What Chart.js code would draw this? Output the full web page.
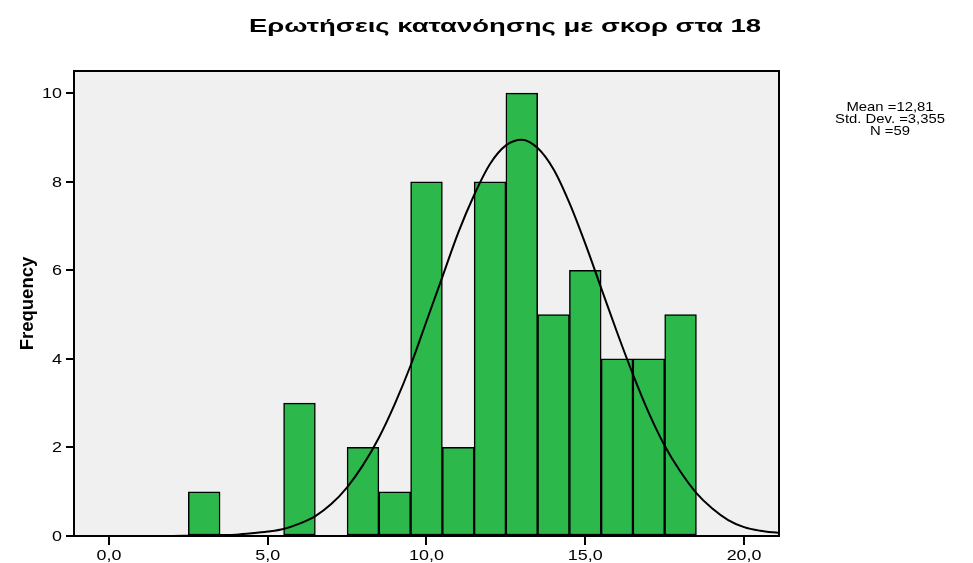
<!DOCTYPE html>
<html>
<head>
<meta charset="utf-8">
<script src="https://cdn.jsdelivr.net/npm/chart.js@4.4.0/dist/chart.umd.min.js"></script>
<style>
  html, body { margin: 0; padding: 0; background: #fff; }
  #wrap { width: 973px; height: 563px; position: relative; }
</style>
</head>
<body>
<div id="wrap"><canvas id="histChart"></canvas></div>
<script>
// Histogram data (score -> frequency)
var scoreBins = [3, 6, 8, 9, 10, 11, 12, 13, 14, 15, 16, 17, 18];
var frequencies = [1, 3, 2, 1, 8, 2, 8, 10, 5, 6, 4, 4, 5];
var curveX = [-1.1, -0.5, 0, 0.5, 1, 1.5, 2, 2.5, 3, 3.5, 4, 4.5, 5, 5.5, 6, 6.5, 7, 7.5, 8, 8.5, 9, 9.5, 10, 10.5, 11, 11.5, 12, 12.5, 13, 13.5, 14, 14.5, 15, 15.5, 16, 16.5, 17, 17.5, 18, 18.5, 19, 19.5, 20, 20.5, 21.1];
var curveY = [0, 0, 0, 0, 0, 0, 0, 0.005, 0.01, 0.02, 0.03, 0.06, 0.1, 0.16, 0.28, 0.45, 0.72, 1.1, 1.6, 2.22, 2.98, 3.85, 4.85, 5.85, 6.85, 7.7, 8.4, 8.82, 8.95, 8.76, 8.28, 7.52, 6.6, 5.6, 4.6, 3.65, 2.78, 2.04, 1.45, 0.97, 0.62, 0.36, 0.2, 0.12, 0.07];
var xTicks = [0, 5, 10, 15, 20];
var yTicks = [0, 2, 4, 6, 8, 10];
var chartTitle = 'Ερωτήσεις κατανόησης με σκορ στα 18';
var yTitle = 'Frequency';
var statLines = ['Mean =12,81', 'Std. Dev. =3,355', 'N =59'];

var FONT = '"Liberation Sans", Arial, sans-serif';

// draw text stretched horizontally (SPSS export looks widened)
function wideText(ctx, text, x, y, align, sx) {
    ctx.save();
    ctx.translate(x, y);
    ctx.scale(sx, 1);
    ctx.textAlign = align;
    ctx.fillText(text, 0, 0);
    ctx.restore();
}

var spssDecor = {
    id: 'spssDecor',
    beforeDraw: function (chart) {
        var a = chart.chartArea, ctx = chart.ctx;
        ctx.save();
        ctx.fillStyle = '#f0f0f0';
        ctx.fillRect(a.left, a.top, a.right - a.left, a.bottom - a.top);
        ctx.restore();
    },
    afterDraw: function (chart) {
        var a = chart.chartArea, ctx = chart.ctx;
        ctx.save();
        // frame
        ctx.strokeStyle = '#000';
        ctx.lineWidth = 2;
        ctx.strokeRect(a.left, a.top, a.right - a.left, a.bottom - a.top);
        ctx.fillStyle = '#000';
        ctx.textBaseline = 'alphabetic';

        // title
        ctx.font = 'bold 18px ' + FONT;
        var tw = ctx.measureText(chartTitle).width;
        wideText(ctx, chartTitle, 505, 31.5, 'center', 512 / tw);

        // tick labels, placed by the chart scales
        ctx.font = '14px ' + FONT;
        var xs = chart.scales.x, ys = chart.scales.y;
        xs.ticks.forEach(function (t) {
            wideText(ctx, t.value.toFixed(1).replace('.', ','), xs.getPixelForValue(t.value), 560, 'center', 1.28);
        });
        ys.ticks.forEach(function (t) {
            wideText(ctx, String(t.value), 62, ys.getPixelForValue(t.value) + 5, 'right', 1.28);
        });

        // y axis title
        ctx.save();
        ctx.font = 'bold 18.5px ' + FONT;
        ctx.translate(33, (a.top + a.bottom) / 2);
        ctx.rotate(-Math.PI / 2);
        ctx.textAlign = 'center';
        ctx.fillText(yTitle, 0, 0);
        ctx.restore();

        // stats box
        ctx.font = '13.5px ' + FONT;
        statLines.forEach(function (s, i) {
            wideText(ctx, s, 890, 110.5 + i * 12.4, 'center', 1.1);
        });
        ctx.restore();
    }
};

var ctx = document.getElementById('histChart');
new Chart(ctx, {
    data: {
        datasets: [{
            type: 'line',
            label: 'Normal',
            data: curveX.map(function (x, i) { return { x: x, y: curveY[i] }; }),
            borderColor: '#000',
            borderWidth: 2,
            pointRadius: 0,
            cubicInterpolationMode: 'monotone',
            fill: false,
            order: 0
        }, {
            type: 'bar',
            label: 'Frequency',
            data: scoreBins.map(function (x, i) { return { x: x, y: frequencies[i] }; }),
            backgroundColor: '#2db84b',
            borderColor: '#000',
            borderWidth: 1.5,
            borderSkipped: false,
            barPercentage: 1,
            categoryPercentage: 1,
            order: 1
        }]
    },
    options: {
        responsive: true,
        maintainAspectRatio: false,
        animation: false,
        layout: { padding: { left: 0, top: 71, right: 194, bottom: 0 } },
        plugins: {
            legend: { display: false },
            tooltip: { enabled: false },
            title: { display: false }
        },
        scales: {
            x: {
                type: 'linear',
                offset: false,
                min: -1.1,
                max: 21.1,
                afterBuildTicks: function (s) { s.ticks = xTicks.map(function (v) { return { value: v }; }); },
                afterFit: function (s) { s.height = 27; },
                ticks: { display: false },
                border: { display: false },
                grid: { offset: false, drawOnChartArea: false, drawTicks: true, tickLength: 9, color: '#000', lineWidth: 2 }
            },
            y: {
                min: 0,
                max: 10.5,
                afterBuildTicks: function (s) { s.ticks = yTicks.map(function (v) { return { value: v }; }); },
                afterFit: function (s) { s.width = 74; },
                ticks: { display: false },
                border: { display: false },
                grid: { drawOnChartArea: false, drawTicks: true, tickLength: 8, color: '#000', lineWidth: 2 }
            }
        }
    },
    plugins: [spssDecor]
});
</script>
</body>
</html>
